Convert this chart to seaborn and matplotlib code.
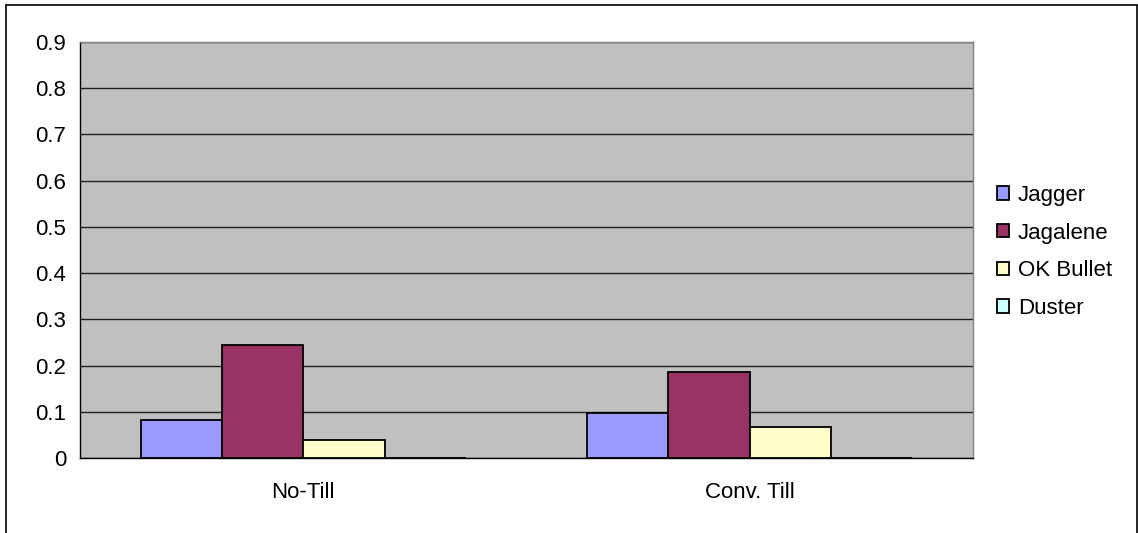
import matplotlib
matplotlib.use("Agg")
import matplotlib.pyplot as plt
import seaborn as sns
import pandas as pd
from matplotlib.lines import Line2D

categories = ["No-Till", "Conv. Till"]
series = ["Jagger", "Jagalene", "OK Bullet", "Duster"]
jagger = [0.083, 0.097]
jagalene = [0.245, 0.187]
ok_bullet = [0.040, 0.068]
duster = [0.0, 0.0]
colors = ["#9999FF", "#993366", "#FFFFCC", "#CCFFFF"]
yticks = [0, 0.1, 0.2, 0.3, 0.4, 0.5, 0.6, 0.7, 0.8, 0.9]

rows = []
for name, vals in zip(series, [jagger, jagalene, ok_bullet, duster]):
    for c, v in zip(categories, vals):
        rows.append({"cat": c, "series": name, "value": v})
df = pd.DataFrame(rows)

sns.set_theme(style="white")
plt.rcParams["font.family"] = ["Liberation Sans", "DejaVu Sans"]

W, H = 1138, 533
fig = plt.figure(figsize=(W/100, H/100), dpi=100)
ax = fig.add_axes([80/W, 1 - 458/H, (973-80)/W, (458-42)/H])
sns.barplot(data=df, x="cat", y="value", hue="series", hue_order=series,
            order=categories, palette=colors, width=0.728, edgecolor="black",
            linewidth=1.3, saturation=1, ax=ax, legend=True, errorbar=None)

ax.set_facecolor("#C0C0C0")
ax.set_ylim(0, 0.9)
ax.set_xlim(-0.5, 1.5)
ax.set_yticks(yticks)
ax.set_yticklabels(["0" if t == 0 else f"{t:.1f}" for t in yticks], fontsize=16)
ax.yaxis.grid(True, color="#202020", linewidth=1)
ax.set_axisbelow(True)
ax.set_xlabel("")
ax.set_ylabel("")
ax.set_xticks([0, 1])
ax.set_xticklabels(categories, fontsize=16)
ax.set_xticks([-0.5, 0.5, 1.5], minor=True)
ax.tick_params(axis="x", which="major", length=0, pad=17)
ax.tick_params(axis="x", which="minor", length=6, width=1, color="black", direction="out")
ax.tick_params(axis="y", length=6, width=1, color="black", direction="out", pad=4)
ax.tick_params(colors="black")
for s in ["top", "right"]:
    ax.spines[s].set_color("#808080")
    ax.spines[s].set_linewidth(1)
for s in ["left", "bottom"]:
    ax.spines[s].set_color("black")
    ax.spines[s].set_linewidth(1)

handles, labels = ax.get_legend_handles_labels()
leg = ax.legend(handles, labels, loc="center left", bbox_to_anchor=(997/W, 1 - 252/H),
                bbox_transform=fig.transFigure, frameon=False, fontsize=16,
                handlelength=0.55, handleheight=0.55, handletextpad=0.4, labelspacing=0.75,
                borderaxespad=0, borderpad=0)
for t in leg.get_texts():
    t.set_color("black")

# chart-area border (top, left, right; bottom runs off the image)
x0, x1, y0 = 5.5/W, 1136.5/W, 1 - 4.5/H
for xs, ys in [([x0, x1], [y0, y0]), ([x0, x0], [0, y0]), ([x1, x1], [0, y0])]:
    fig.add_artist(Line2D(xs, ys, transform=fig.transFigure, color="black", linewidth=1.2))

fig.savefig("out.png", dpi=100)
